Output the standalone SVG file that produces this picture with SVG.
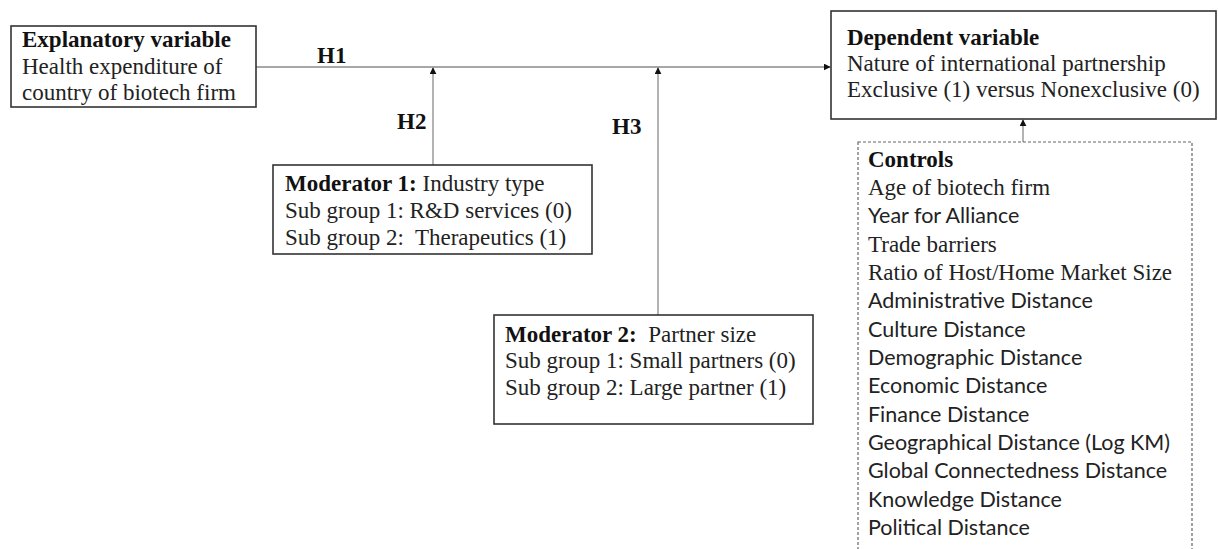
<svg xmlns="http://www.w3.org/2000/svg" width="1218" height="549" viewBox="0 0 1218 549">
<style>
.box{fill:#fff;stroke:#333;stroke-width:1.6}
.dash{fill:#fff;stroke:#666;stroke-width:1.2;stroke-dasharray:3,2}
.con{stroke:#8a8a8a;stroke-width:1.3;fill:none}
.s{font-family:"Liberation Serif",serif;font-size:23px;fill:#222;white-space:pre}
.b{font-weight:bold;fill:#111}
.h{font-family:"Liberation Serif",serif;font-size:23px;font-weight:bold;fill:#111}
.c{font-family:Lato,"Noto Sans",sans-serif;font-size:21.5px;fill:#222}
</style>
<defs>
<marker id="arr" viewBox="0 0 10 10" refX="9" refY="5" markerWidth="7" markerHeight="7" markerUnits="userSpaceOnUse" orient="auto"><path d="M0,0 L10,5 L0,10 z" fill="#111"/></marker>
</defs>
<g id="connectors">
<line class="con" x1="256" y1="67" x2="830" y2="67" marker-end="url(#arr)"/>
<line class="con" x1="433" y1="166" x2="433" y2="68" marker-end="url(#arr)"/>
<line class="con" x1="658" y1="315" x2="658" y2="68" marker-end="url(#arr)"/>
<line class="con" x1="1023" y1="142" x2="1023" y2="120" marker-end="url(#arr)"/>
<text class="h" x="317" y="63">H1</text>
<text class="h" x="397" y="129">H2</text>
<text class="h" x="612" y="134">H3</text>
</g>
<g id="explanatory">
<rect class="box" x="11" y="26" width="245" height="81"/>
<text class="s" x="22" y="47"><tspan class="b">Explanatory variable</tspan></text>
<text class="s" x="22" y="74">Health expenditure of</text>
<text class="s" x="22" y="100">country of biotech firm</text>
</g>
<g id="dependent">
<rect class="box" x="831" y="11" width="385" height="108"/>
<text class="s" x="847" y="45"><tspan class="b">Dependent variable</tspan></text>
<text class="s" x="847" y="71">Nature of international partnership</text>
<text class="s" x="847" y="97">Exclusive (1) versus Nonexclusive (0)</text>
</g>
<g id="moderator1">
<rect class="box" x="273" y="165" width="319" height="89"/>
<text class="s" x="285" y="191"><tspan class="b">Moderator 1:</tspan> Industry type</text>
<text class="s" x="285" y="218">Sub group 1: R&amp;D services (0)</text>
<text class="s" x="285" y="245" xml:space="preserve">Sub group 2:  Therapeutics (1)</text>
</g>
<g id="moderator2">
<rect class="box" x="494" y="315" width="319" height="109"/>
<text class="s" x="505" y="342" xml:space="preserve"><tspan class="b">Moderator 2:</tspan>  Partner size</text>
<text class="s" x="505" y="368">Sub group 1: Small partners (0)</text>
<text class="s" x="505" y="395">Sub group 2: Large partner (1)</text>
</g>
<g id="controls">
<rect class="dash" x="858" y="142" width="334" height="420"/>
<text class="s" x="868" y="167"><tspan class="b">Controls</tspan></text>
<text class="s" x="868" y="195">Age of biotech firm</text>
<text class="c" x="868" y="223">Year for Alliance</text>
<text class="s" x="868" y="252">Trade barriers</text>
<text class="s" x="868" y="280">Ratio of Host/Home Market Size</text>
<text class="c" x="868" y="308">Administrative Distance</text>
<text class="c" x="868" y="337">Culture Distance</text>
<text class="c" x="868" y="365">Demographic Distance</text>
<text class="c" x="868" y="393">Economic Distance</text>
<text class="c" x="868" y="422">Finance Distance</text>
<text class="c" x="868" y="450">Geographical Distance (Log KM)</text>
<text class="c" x="868" y="478">Global Connectedness Distance</text>
<text class="c" x="868" y="507">Knowledge Distance</text>
<text class="c" x="868" y="535">Political Distance</text>
</g>
</svg>
